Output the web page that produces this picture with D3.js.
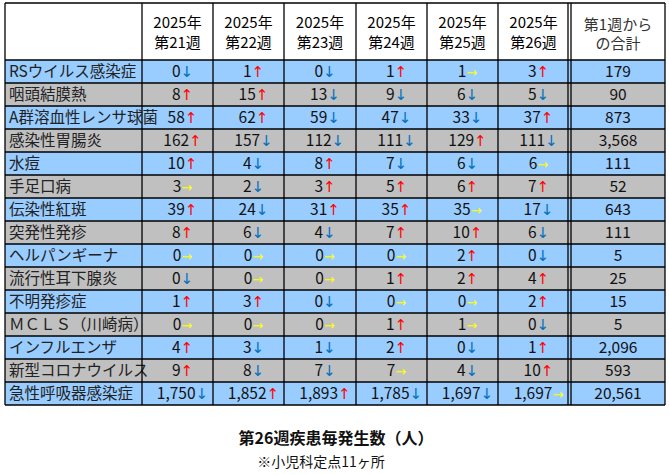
<!DOCTYPE html>
<html><head><meta charset="utf-8">
<script src="https://cdn.jsdelivr.net/npm/d3@7"></script>
<style>body{margin:0;background:#fff}</style></head>
<body><svg id="c" width="669" height="475"></svg>
<script>
const diseases=["RSウイルス感染症","咽頭結膜熱","A群溶血性レンサ球菌","感染性胃腸炎","水痘","手足口病","伝染性紅斑","突発性発疹","ヘルパンギーナ","流行性耳下腺炎","不明発疹症","ＭＣＬＳ（川崎病）","インフルエンザ","新型コロナウイルス","急性呼吸器感染症"];
const weeks=["第21週","第22週","第23週","第24週","第25週","第26週"];
const values=[
[0,1,0,1,1,3],[8,15,13,9,6,5],[58,62,59,47,33,37],[162,157,112,111,129,111],
[10,4,8,7,6,6],[3,2,3,5,6,7],[39,24,31,35,35,17],[8,6,4,7,10,6],
[0,0,0,0,2,0],[0,0,0,1,2,4],[1,3,0,0,0,2],[0,0,0,1,1,0],
[4,3,1,2,0,1],[9,8,7,7,4,10],[1750,1852,1893,1785,1697,1697]];
const arrows=[
"d u d u r u","u u d d d d","u u d d d u","u d d d u d",
"u d u d d r","r d u u u u","u d u u r d","u d d u u d",
"r r r r u d","d r r u u u","u u d r r u","r r r u r d",
"u d d u d u","u d d r d u","d u u d d r"].map(s=>s.split(" "));
const totals=[179,90,873,3568,111,52,643,111,5,25,15,5,2096,593,20561];

const svg=d3.select("#c");
const font="'Noto Sans CJK JP','Noto Sans',sans-serif";
const edges=[5,142,213,284,356,427,498,569,665];
const y=d3.scaleLinear().domain([0,15]).range([60,405]);
const arrowSym={u:"↑",d:"↓",r:"→"}, arrowCol={u:"#FF0000",d:"#0070C0",r:"#FFFF00"};
const fmt=d3.format(",");
// header
svg.append("rect").attr("x",5).attr("y",3).attr("width",660).attr("height",57).attr("fill","#fff");
diseases.forEach((d,i)=>{
  svg.append("rect").attr("x",5).attr("y",y(i)).attr("width",660).attr("height",y(i+1)-y(i))
    .attr("fill",i%2===0?"#99CCFF":"#C0C0C0");
  svg.append("text").attr("x",9).attr("y",(y(i)+y(i+1))/2+5.5).attr("font-family",font).attr("font-size",15.5)
    .attr("fill","#222").text(d);
  values[i].forEach((v,j)=>{
    const cx=(edges[j+1]+edges[j+2])/2;
    const t=svg.append("text").attr("x",cx+5).attr("y",(y(i)+y(i+1))/2+5.5).attr("font-family",font)
      .attr("font-size",15.5).attr("text-anchor","middle").attr("fill","#111");
    t.append("tspan").text(fmt(v));
    t.append("tspan").attr("fill",arrowCol[arrows[i][j]]).attr("font-family","'DejaVu Sans',sans-serif").attr("font-size",arrows[i][j]==="r"?13:15).text(arrowSym[arrows[i][j]]);
  });
  svg.append("text").attr("x",(edges[7]+edges[8])/2+1).attr("y",(y(i)+y(i+1))/2+5.5).attr("font-family",font)
    .attr("font-size",15.5).attr("text-anchor","middle").attr("fill","#111").text(fmt(totals[i]));
});
weeks.forEach((w,j)=>{
  const cx=(edges[j+1]+edges[j+2])/2;
  svg.append("text").attr("x",cx).attr("y",28).attr("font-family",font).attr("font-size",15).attr("text-anchor","middle").text("2025年");
  svg.append("text").attr("x",cx).attr("y",48).attr("font-family",font).attr("font-size",15).attr("text-anchor","middle").text(w);
});
const tc=(edges[7]+edges[8])/2+1;
svg.append("text").attr("x",tc).attr("y",30).attr("font-family",font).attr("font-size",15).attr("text-anchor","middle").attr("fill","#333").text("第1週から");
svg.append("text").attr("x",tc).attr("y",49).attr("font-family",font).attr("font-size",15).attr("text-anchor","middle").attr("fill","#333").text("の合計");
// grid
const g=svg.append("g").attr("stroke","#000").attr("stroke-width",1.3);
for(let i=0;i<=15;i++) g.append("line").attr("x1",5).attr("x2",665).attr("y1",y(i)).attr("y2",y(i));
g.append("line").attr("x1",5).attr("x2",665).attr("y1",3).attr("y2",3);
edges.forEach((e,k)=>{ if(k!==7) g.append("line").attr("x1",e).attr("x2",e).attr("y1",3).attr("y2",405);});
g.append("line").attr("x1",568).attr("x2",568).attr("y1",3).attr("y2",405);
g.append("line").attr("x1",571).attr("x2",571).attr("y1",3).attr("y2",405);
svg.append("text").attr("x",336).attr("y",444).attr("font-family",font).attr("font-size",16).attr("font-weight","bold")
  .attr("text-anchor","middle").attr("fill","#111").text("第26週疾患毎発生数（人）");
svg.append("text").attr("x",321).attr("y",467).attr("font-family",font).attr("font-size",14)
  .attr("text-anchor","middle").attr("fill","#111").text("※小児科定点11ヶ所");
</script></body></html>
